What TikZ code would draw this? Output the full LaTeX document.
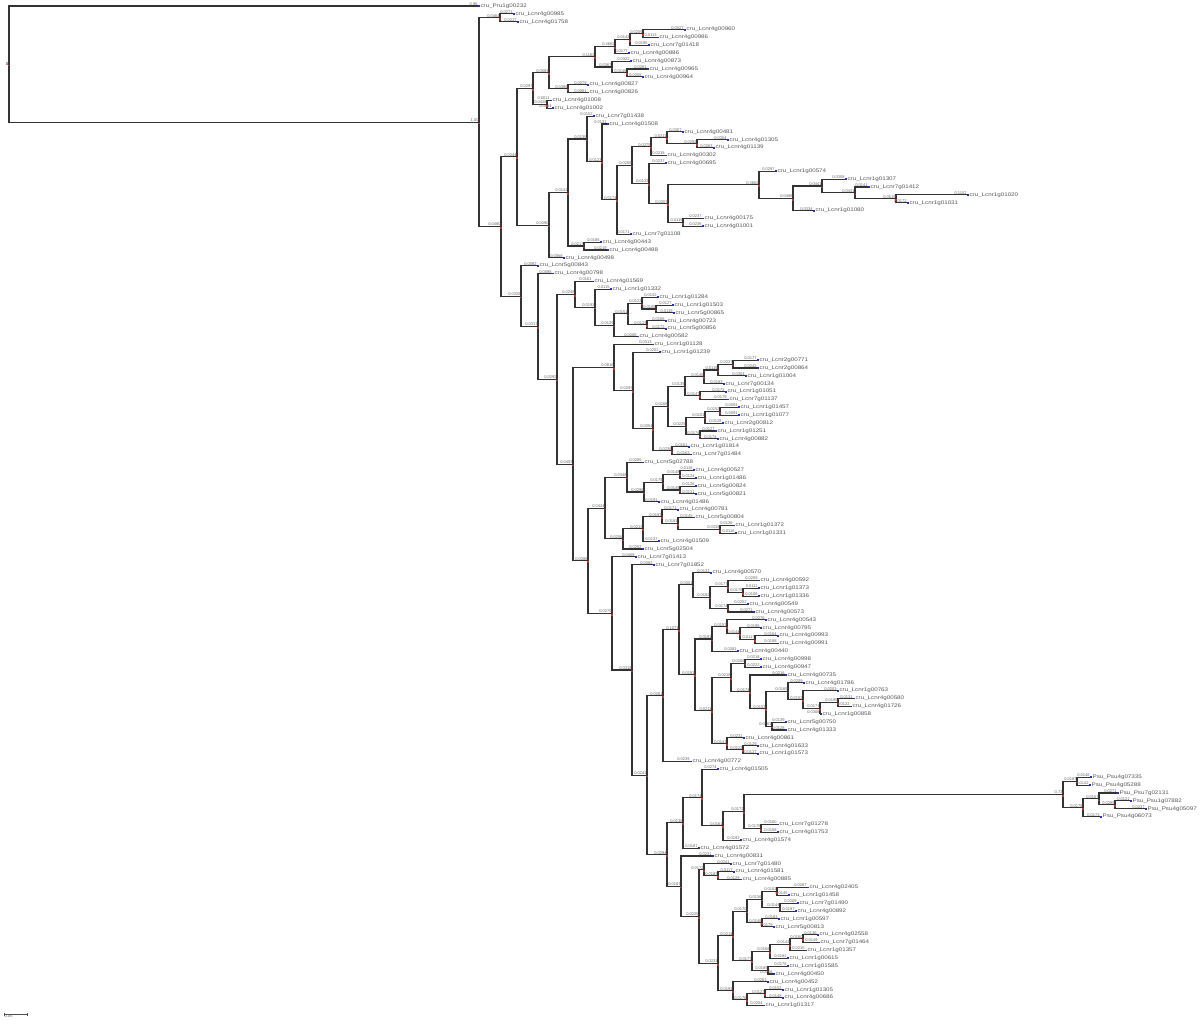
\documentclass[tikz,border=0pt]{standalone}
\usepackage{fontspec}
\setmainfont{Liberation Sans}
\newfontfamily\genefont[FakeStretch=1.2]{Liberation Sans}
\usetikzlibrary{calc}
\definecolor{nodered}{HTML}{C8302A}
\definecolor{tipblue}{HTML}{2233BB}

% leaf: name, row, x of tip, branch value, gene id
\newcommand\gtip[5]{%
  \coordinate (#1) at (#3,{6+7.87*#2});
  \node[blen] (#1b) at (#1) {#4};
  \fill[tipblue] (#1) ++(0,-0.9) rectangle ++(1.8,1.8);
  \node[gene] (#1l) at (#1) {#5};}
% clade: name, x, upper child, lower child, branch value
\newcommand\gclade[5]{%
  \path let \p1=(#3), \p2=(#4) in (#2pt,{0.5*(\y1+\y2)}) coordinate (#1);
  \draw[branch] (#1) |- (#3);
  \draw[branch] (#1) |- (#4);
  \fill[nodered] (#1) ++(-1,0.6) rectangle ++(1.6,1.6);
  \node[blen] (#1b) at (#1) {#5};}

\begin{document}
\begin{tikzpicture}[x=1pt,y=-1pt]

\tikzset{
branch/.style = {draw = black!80, line width = 1.1pt},
blen/.style = {anchor = south east, inner sep = 0.3pt, text = black!60,
	font = \fontsize{4}{4}\selectfont},
gene/.style = {anchor = west, inner sep = 0pt, xshift = 2.4pt, text = black!65,
	font = \genefont\fontsize{5.2}{5.2}\selectfont},
}

\path[fill = white, use as bounding box] (0,0) rectangle (1200,1024);

%% Top clades
\gtip{t0}{0}{478}{0.96}{cru\_Pru1g00232}
\gtip{t1}{1}{513}{0.0271}{cru\_Lcnr4g00985}
\gtip{t2}{2}{517}{0.0217}{cru\_Lcnr4g01758}
\gclade{nA1}{500}{t1}{t2}{0.0464}
\gtip{t3}{3}{684}{0.0027}{cru\_Lcnr4g00960}
\gtip{t4}{4}{657}{0.0113}{cru\_Lcnr4g00986}
\gclade{nN}{643}{t3}{t4}{0.0209}
\gtip{t5}{5}{648}{0.0195}{cru\_Lcnr7g01418}
\gclade{nM}{630}{nN}{t5}{0.0142}
\gtip{t6}{6}{628}{0.0177}{cru\_Lcnr4g00886}
\gclade{nK}{615}{nM}{t6}{0.4662}
\gtip{t7}{7}{630}{0.0322}{cru\_Lcnr4g00873}
\gtip{t8}{8}{647}{0.0261}{cru\_Lcnr4g00965}
\gtip{t9}{9}{642}{0.0205}{cru\_Lcnr4g00964}
\gclade{nP}{627}{t8}{t9}{0.0148}
\gclade{nL}{612}{t7}{nP}{0.0367}
\gclade{nI}{595}{nK}{nL}{0.1162}
\gtip{t10}{10}{587}{0.0079}{cru\_Lcnr4g00827}
\gtip{t11}{11}{587}{0.0081}{cru\_Lcnr4g00826}
\gclade{nJ}{568}{t10}{t11}{0.0389}
\gclade{nG}{549}{nI}{nJ}{0.0583}
\gtip{t12}{12}{550}{0.0011}{cru\_Lcnr4g01008}
\gtip{t13}{13}{552}{0.0014}{cru\_Lcnr4g01002}
\gclade{nH}{547}{t12}{t13}{0.0428}
\gclade{nE}{533}{nG}{nH}{0.0297}

\gtip{t14}{14}{593}{0.0152}{cru\_Lcnr7g01438}
\gtip{t15}{15}{607}{0.0131}{cru\_Lcnr4g01508}
\gtip{t16}{16}{682}{0.0307}{cru\_Lcnr4g00481}
\gtip{t17}{17}{727}{0.0304}{cru\_Lcnr4g01305}
\gtip{t18}{18}{713}{0.0263}{cru\_Lcnr4g01139}
\gclade{nQa}{697}{t17}{t18}{0.0292}
\gclade{nQb}{667}{t16}{nQa}{0.0211}
\gtip{t19}{19}{665}{0.0218}{cru\_Lcnr4g00302}
\gclade{nQc}{651}{nQb}{t19}{0.0375}
\gtip{t20}{20}{665}{0.0237}{cru\_Lcnr4g00695}
\gtip{t21}{21}{775}{0.0297}{cru\_Lcnr1g00574}
\gtip{t22}{22}{845}{0.0308}{cru\_Lcnr1g01307}
\gtip{t23}{23}{868}{0.0141}{cru\_Lcnr7g01412}
\gtip{t24}{24}{967}{0.1102}{cru\_Lcnr1g01020}
\gtip{t25}{25}{907}{0.0172}{cru\_Lcnr1g01031}
\gclade{nR1}{896}{t24}{t25}{0.0519}
\gclade{nR2}{855}{t23}{nR1}{0.0431}
\gclade{nR3}{822}{t22}{nR2}{0.0441}
\gtip{t26}{26}{813}{0.0334}{cru\_Lcnr1g01080}
\gclade{nR4}{793}{nR3}{t26}{0.0498}
\gclade{nR5}{759}{t21}{nR4}{0.3662}
\gtip{t27}{27}{702}{0.0237}{cru\_Lcnr4g00175}
\gtip{t28}{28}{702}{0.0236}{cru\_Lcnr4g01001}
\gclade{nR6}{683}{t27}{t28}{0.0119}
\gclade{nR7}{668}{nR5}{nR6}{0.0307}
\gclade{nR8}{649}{t20}{nR7}{0.0133}
\gclade{nR9}{632}{nQc}{nR8}{0.0206}
\gtip{t29}{29}{630}{0.0171}{cru\_Lcnr7g01108}
\gclade{nS1}{617}{nR9}{t29}{0.0174}
\gclade{nS2}{602}{t15}{nS1}{0.0123}
\gclade{nS3}{587}{t14}{nS2}{0.0135}
\gtip{t30}{30}{600}{0.0186}{cru\_Lcnr4g00443}
\gtip{t31}{31}{607}{0.0219}{cru\_Lcnr4g00488}
\gclade{nS4}{584}{t30}{t31}{0.0217}
\gclade{nS5}{568}{nS3}{nS4}{0.0141}
\gtip{t32}{32}{563}{0.0068}{cru\_Lcnr4g00498}
\gclade{nF}{549}{nS5}{t32}{0.0290}
\gclade{nC}{517}{nE}{nF}{0.0244}

%% Middle clades
\gtip{t33}{33}{537}{0.0082}{cru\_Lcnr5g00843}
\gtip{t34}{34}{552}{0.0098}{cru\_Lcnr4g00798}
\gtip{t35}{35}{592}{0.0101}{cru\_Lcnr4g01569}
\gtip{t36}{36}{610}{0.0115}{cru\_Lcnr1g01332}
\gtip{t37}{37}{657}{0.0142}{cru\_Lcnr1g01284}
\gtip{t38}{38}{672}{0.0127}{cru\_Lcnr1g01503}
\gtip{t39}{39}{673}{0.0119}{cru\_Lcnr5g00865}
\gclade{nU1}{656}{t38}{t39}{0.0105}
\gclade{nU2}{642}{t37}{nU1}{0.0122}
\gtip{t40}{40}{665}{0.0166}{cru\_Lcnr4g00723}
\gtip{t41}{41}{665}{0.0172}{cru\_Lcnr5g00856}
\gclade{nU3}{647}{t40}{t41}{0.0124}
\gclade{nU4}{628}{nU2}{nU3}{0.0151}
\gtip{t42}{42}{637}{0.0208}{cru\_Lcnr4g00582}
\gclade{nU5}{614}{nU4}{t42}{0.0129}
\gclade{nU6}{595}{t36}{nU5}{0.0193}
\gclade{nU7}{575}{t35}{nU6}{0.0248}

\gtip{t43}{43}{652}{0.0313}{cru\_Lcnr1g01128}
\gtip{t44}{44}{659}{0.0202}{cru\_Lcnr1g01239}
\gtip{t45}{45}{757}{0.0177}{cru\_Lcnr2g00771}
\gtip{t46}{46}{757}{0.0242}{cru\_Lcnr2g00864}
\gclade{nV1}{733}{t45}{t46}{0.0227}
\gtip{t47}{47}{745}{0.0304}{cru\_Lcnr1g01004}
\gclade{nV2}{718}{nV1}{t47}{0.0119}
\gtip{t48}{48}{723}{0.0183}{cru\_Lcnr7g00134}
\gclade{nV3}{704}{nV2}{t48}{0.0146}
\gtip{t49}{49}{725}{0.0172}{cru\_Lcnr1g01051}
\gtip{t50}{50}{727}{0.0179}{cru\_Lcnr7g01137}
\gclade{nV4}{700}{t49}{t50}{0.0147}
\gclade{nV5}{685}{nV3}{nV4}{0.0139}
\gtip{t51}{51}{738}{0.0093}{cru\_Lcnr1g01457}
\gtip{t52}{52}{738}{0.0091}{cru\_Lcnr1g01077}
\gclade{nV6}{720}{t51}{t52}{0.0152}
\gtip{t53}{53}{722}{0.0128}{cru\_Lcnr2g00812}
\gclade{nV7}{705}{nV6}{t53}{0.0101}
\gtip{t54}{54}{715}{0.0127}{cru\_Lcnr1g01251}
\gtip{t55}{55}{717}{0.0174}{cru\_Lcnr4g00882}
\gclade{nV8}{700}{t54}{t55}{0.0174}
\gclade{nV9}{686}{nV7}{nV8}{0.0225}
\gclade{nW1}{668}{nV5}{nV9}{0.0168}
\gtip{t56}{56}{688}{0.0161}{cru\_Lcnr1g01814}
\gtip{t57}{57}{690}{0.0163}{cru\_Lcnr7g01484}
\gclade{nW2}{672}{t56}{t57}{0.0238}
\gclade{nW3}{653}{nW1}{nW2}{0.0354}
\gclade{nW4}{633}{t44}{nW3}{0.0297}
\gclade{nW5}{614}{t43}{nW4}{0.0816}

\gtip{t58}{58}{642}{0.0285}{cru\_Lcnr5g02788}
\gtip{t59}{59}{693}{0.0118}{cru\_Lcnr4g00527}
\gtip{t60}{60}{695}{0.0124}{cru\_Lcnr1g01486}
\gclade{nX1}{680}{t59}{t60}{0.0148}
\gtip{t61}{61}{695}{0.0126}{cru\_Lcnr5g00824}
\gtip{t62}{62}{695}{0.0131}{cru\_Lcnr5g00821}
\gclade{nX2}{680}{t61}{t62}{0.0149}
\gclade{nX3}{663}{nX1}{nX2}{0.0179}
\gtip{t63}{63}{658}{0.0191}{cru\_Lcnr4g01486}
\gclade{nX4}{644}{nX3}{t63}{0.0296}
\gclade{nX5}{627}{t58}{nX4}{0.0348}
\gtip{t64}{64}{677}{0.0171}{cru\_Lcnr4g00781}
\gtip{t65}{65}{693}{0.0145}{cru\_Lcnr5g00804}
\gtip{t66}{66}{733}{0.0138}{cru\_Lcnr1g01372}
\gtip{t67}{67}{735}{0.0116}{cru\_Lcnr1g01331}
\gclade{nX6}{720}{t66}{t67}{0.0339}
\gclade{nX7}{678}{t65}{nX6}{0.0161}
\gclade{nX8}{662}{t64}{nX7}{0.0197}
\gtip{t68}{68}{658}{0.0137}{cru\_Lcnr4g01509}
\gclade{nX9}{643}{nX8}{t68}{0.0213}
\gtip{t69}{69}{642}{0.0252}{cru\_Lcnr5g02504}
\gclade{nY1}{623}{nX9}{t69}{0.0256}
\gclade{nY2}{605}{nX5}{nY1}{0.0424}

%% Lower clades
\gtip{t70}{70}{635}{0.0408}{cru\_Lcnr7g01413}
\gtip{t71}{71}{653}{0.0382}{cru\_Lcnr7g01852}
\gtip{t72}{72}{710}{0.0131}{cru\_Lcnr4g00570}
\gtip{t73}{73}{758}{0.0209}{cru\_Lcnr4g00592}
\gtip{t74}{74}{758}{0.0111}{cru\_Lcnr1g01373}
\gtip{t75}{75}{758}{0.0106}{cru\_Lcnr1g01336}
\gclade{nZ1}{743}{t74}{t75}{0.0179}
\gclade{nZ2}{728}{t73}{nZ1}{0.0177}
\gtip{t76}{76}{747}{0.0252}{cru\_Lcnr4g00549}
\gtip{t77}{77}{753}{0.0271}{cru\_Lcnr4g00573}
\gclade{nZ3}{728}{t76}{t77}{0.0174}
\gclade{nZ4}{710}{nZ2}{nZ3}{0.0162}
\gclade{nZ5}{693}{t72}{nZ4}{0.0301}
\gtip{t78}{78}{765}{0.0276}{cru\_Lcnr4g00543}
\gtip{t79}{79}{760}{0.0198}{cru\_Lcnr4g00795}
\gtip{t80}{80}{777}{0.0164}{cru\_Lcnr4g00993}
\gtip{t81}{81}{777}{0.0158}{cru\_Lcnr4g00991}
\gclade{nZ6}{755}{t80}{t81}{0.0117}
\gclade{nZ7}{740}{t79}{nZ6}{0.0144}
\gclade{nZ8}{727}{t78}{nZ7}{0.0157}
\gtip{t82}{82}{737}{0.0281}{cru\_Lcnr4g00440}
\gclade{nZ9}{712}{nZ8}{t82}{0.0191}
\gtip{t83}{83}{760}{0.0218}{cru\_Lcnr4g00998}
\gtip{t84}{84}{760}{0.0222}{cru\_Lcnr4g00947}
\gclade{nZa}{745}{t83}{t84}{0.0209}
\gtip{t85}{85}{785}{0.0216}{cru\_Lcnr4g00735}
\gtip{t86}{86}{803}{0.0209}{cru\_Lcnr4g01786}
\gtip{t87}{87}{837}{0.0203}{cru\_Lcnr1g00763}
\gtip{t88}{88}{853}{0.0131}{cru\_Lcnr4g00580}
\gtip{t89}{89}{850}{0.0122}{cru\_Lcnr4g01726}
\gclade{nZb}{838}{t88}{t89}{0.0195}
\gtip{t90}{90}{820}{0.0306}{cru\_Lcnr1g00858}
\gclade{nZc}{820}{nZb}{t90}{0.0171}
\gclade{nZd}{803}{t87}{nZc}{0.0152}
\gclade{nZe}{788}{t86}{nZd}{0.0169}
\gtip{t91}{91}{785}{0.0139}{cru\_Lcnr5g00750}
\gtip{t92}{92}{785}{0.0128}{cru\_Lcnr4g01333}
\gclade{nZf}{772}{t91}{t92}{0.0201}
\gclade{nZg}{766}{nZe}{nZf}{0.0153}
\gclade{nZh}{750}{t85}{nZg}{0.0174}
\gclade{nZi}{731}{nZa}{nZh}{0.0218}
\gtip{t93}{93}{743}{0.0232}{cru\_Lcnr4g00861}
\gtip{t94}{94}{757}{0.0129}{cru\_Lcnr4g01633}
\gtip{t95}{95}{757}{0.0137}{cru\_Lcnr1g01573}
\gclade{nZj}{743}{t94}{t95}{0.0122}
\gclade{nZk}{727}{t93}{nZj}{0.0147}
\gclade{nZl}{712}{nZi}{nZk}{0.0211}
\gclade{nZm}{695}{nZ9}{nZl}{0.0183}
\gclade{nZn}{679}{nZ5}{nZm}{0.1071}
\gtip{t96}{96}{690}{0.0239}{cru\_Lcnr4g00772}
\gclade{nZo}{663}{nZn}{t96}{0.0261}

\gtip{t97}{97}{717}{0.0274}{cru\_Lcnr4g01505}
\gtip{t98}{98}{1090}{0.0148}{Psu\_Psu4g07335}
\gtip{t99}{99}{1089}{0.0142}{Psu\_Psu4g05288}
\gclade{nP1}{1077}{t98}{t99}{0.0187}
\gtip{t100}{100}{1117}{0.0271}{Psu\_Psu7g02131}
\gtip{t101}{101}{1130}{0.0121}{Psu\_Psu1g07882}
\gtip{t102}{102}{1145}{0.0237}{Psu\_Psu4g05097}
\gclade{nP2}{1115}{t101}{t102}{0.0289}
\gclade{nP3}{1099}{t100}{nP2}{0.0157}
\gtip{t103}{103}{1100}{0.0173}{Psu\_Psu4g06073}
\gclade{nP4}{1083}{nP3}{t103}{0.0178}
\gclade{nP5}{1063}{nP1}{nP4}{0.73}
\gtip{t104}{104}{777}{0.0160}{cru\_Lcnr7g01278}
\gtip{t105}{105}{777}{0.0158}{cru\_Lcnr4g01753}
\gclade{nP6}{761}{t104}{t105}{0.0175}
\gclade{nP7}{744}{nP5}{nP6}{0.0172}
\gtip{t106}{106}{740}{0.0193}{cru\_Lcnr4g01574}
\gclade{nP8}{723}{nP7}{t106}{0.0161}
\gclade{nP9}{702}{t97}{nP8}{0.0174}
\gtip{t107}{107}{698}{0.0187}{cru\_Lcnr4g01572}
\gclade{nQ1}{683}{nP9}{t107}{0.0138}
\gtip{t108}{108}{712}{0.0231}{cru\_Lcnr4g00831}
\gtip{t109}{109}{730}{0.0241}{cru\_Lcnr7g01480}
\gtip{t110}{110}{733}{0.0117}{cru\_Lcnr4g01581}
\gtip{t111}{111}{740}{0.0129}{cru\_Lcnr4g00885}
\gclade{nQ2}{718}{t110}{t111}{0.0183}
\gclade{nQ3}{704}{t109}{nQ2}{0.0172}

\gtip{t112}{112}{807}{0.0287}{cru\_Lcnr4g02405}
\gtip{t113}{113}{788}{0.0145}{cru\_Lcnr1g01458}
\gclade{nT1}{777}{t112}{t113}{0.0152}
\gtip{t114}{114}{797}{0.0209}{cru\_Lcnr7g01490}
\gtip{t115}{115}{795}{0.0197}{cru\_Lcnr4g00892}
\gclade{nT2}{780}{t114}{t115}{0.0144}
\gclade{nT3}{762}{nT1}{nT2}{0.0136}
\gtip{t116}{116}{778}{0.0183}{cru\_Lcnr1g00597}
\gtip{t117}{117}{773}{0.0179}{cru\_Lcnr5g00813}
\gclade{nT4}{762}{t116}{t117}{0.0148}
\gclade{nT5}{747}{nT3}{nT4}{0.0170}
\gtip{t118}{118}{817}{0.0136}{cru\_Lcnr4g02558}
\gtip{t119}{119}{818}{0.0149}{cru\_Lcnr7g01464}
\gclade{nT6}{803}{t118}{t119}{0.0160}
\gtip{t120}{120}{805}{0.0215}{cru\_Lcnr1g01357}
\gclade{nT7}{790}{nT6}{t120}{0.0142}
\gtip{t121}{121}{787}{0.0182}{cru\_Lcnr1g00615}
\gclade{nT8}{770}{nT7}{t121}{0.0168}
\gtip{t122}{122}{787}{0.0178}{cru\_Lcnr1g01585}
\gtip{t123}{123}{773}{0.0166}{cru\_Lcnr4g00450}
\gclade{nT9}{768}{t122}{t123}{0.0189}
\gclade{nTa}{752}{nT8}{nT9}{0.0177}
\gclade{nTb}{733}{nT5}{nTa}{0.0214}
\gtip{t124}{124}{767}{0.0261}{cru\_Lcnr4g00452}
\gtip{t125}{125}{782}{0.0152}{cru\_Lcnr1g01305}
\gtip{t126}{126}{782}{0.0148}{cru\_Lcnr4g00686}
\gclade{nTc}{765}{t125}{t126}{0.0127}
\gtip{t127}{127}{763}{0.0204}{cru\_Lcnr1g01317}
\gclade{nTd}{747}{nTc}{t127}{0.0176}
\gclade{nTe}{733}{t124}{nTd}{0.0193}
\gclade{nTf}{718}{nTb}{nTe}{0.0231}
\gclade{nTg}{699}{nQ3}{nTf}{0.0225}
\gclade{nTh}{681}{t108}{nTg}{0.0187}
\gclade{nTi}{667}{nQ1}{nTh}{0.0294}
\gclade{nTj}{647}{nZo}{nTi}{0.0241}
\gclade{nTk}{632}{t71}{nTj}{0.0318}
\gclade{nTl}{612}{t70}{nTk}{0.0279}
\gclade{nTm}{588}{nY2}{nTl}{0.0288}
\gclade{nTn}{573}{nW5}{nTm}{0.0453}

%% Backbone
\gclade{nD3}{557}{nU7}{nTn}{0.0292}
\gclade{nD2}{538}{t34}{nD3}{0.0317}
\gclade{nD}{521}{t33}{nD2}{0.0326}
\gclade{nB}{501}{nC}{nD}{0.0480}
\gclade{nA}{479}{nA1}{nB}{1.00}
\gclade{root}{9}{t0}{nA}{}
\node[anchor = east, inner sep = 0.5pt, font = \fontsize{4}{4}\selectfont] (rootlab) at (root) {0};

%% Scale bar
\coordinate (sb1) at (4,1014);
\coordinate (sb2) at (27,1014);
\draw[black!70, line width = 0.8pt] (sb1) -- (sb2);
\draw[black!70, line width = 0.6pt] (sb1) ++(0,-1.5) -- ++(0,3) (sb2) ++(0,-1.5) -- ++(0,3);
\node[anchor = north west, inner sep = 0.5pt, text = black!65,
	font = \fontsize{4}{4}\selectfont] (sblab) at (sb1) {0.05};

\end{tikzpicture}
\end{document}
